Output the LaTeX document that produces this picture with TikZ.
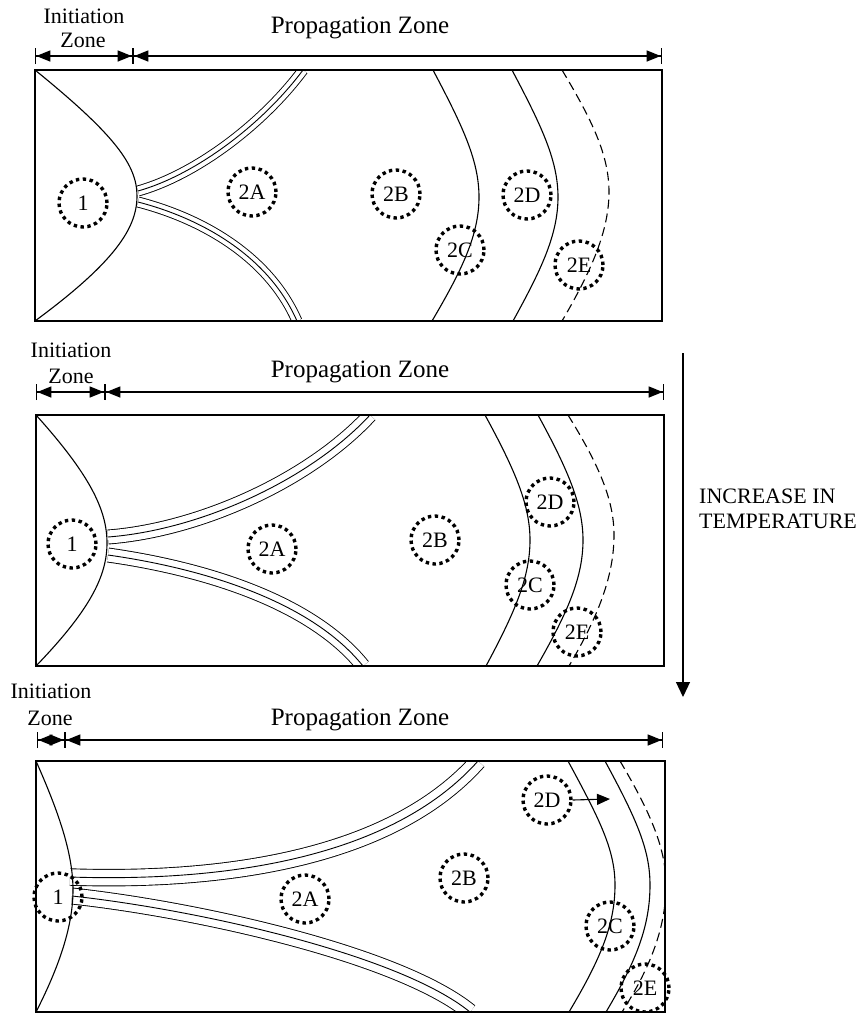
\documentclass[tikz,border=0pt]{standalone}
\usepackage{fontspec}
\setmainfont{Liberation Serif}
\usetikzlibrary{arrows.meta}
\begin{document}
\begin{tikzpicture}[x=1pt,y=-1pt,
  every node/.style={font=\fontsize{22}{24}\selectfont},
  bigtext/.style={font=\fontsize{25}{27}\selectfont},
  frame/.style={draw,line width=1.8pt},
  front/.style={draw,line width=1.1pt},
  dashfront/.style={draw,line width=1.1pt,dash pattern=on 9pt off 5pt},
  zone/.style={circle,draw,line width=3.4pt,dash pattern=on 3.4pt off 3.5pt,
    minimum size=48pt,inner sep=0pt},
  band/.style={preaction={draw=black,line width=#1},
    preaction={draw=white,line width=#1-1.8pt},draw=black,line width=0.9pt},
  dim/.style={line width=1.3pt,
    {Bar[width=16pt,line width=1.3pt]Triangle[length=14pt,width=11pt]}-{Triangle[length=14pt,width=11pt]Bar[width=16pt,line width=1.3pt]}},
]
\useasboundingbox (0,0) rectangle (866,1013);

% ---------------- first stage ----------------
\node[anchor=base] (i1a) at (84,23) {Initiation};
\node[anchor=base] (i1b) at (83,47) {Zone};
\node[anchor=base,bigtext] (p1) at (360,33) {Propagation Zone};
\coordinate (d1a) at (35,56);
\coordinate (d1b) at (133,56);
\coordinate (d1c) at (662,56);
\draw[dim] (d1a) -- (d1b);
\draw[dim] (d1b) -- (d1c);

\begin{scope}
\clip (35,70) rectangle (662,321);
\draw[band=10.9pt] (138,191) .. controls (195,175) and (262,125) .. (303,70);
\draw[band=10.9pt] (138,202) .. controls (200,218) and (268,255) .. (297,321);
\draw[front] (35,70) .. controls (115,135) and (137,165) .. (137,196)
  .. controls (137,228) and (115,262) .. (35,321);
\draw[front] (433,70) .. controls (462,125) and (479,160) .. (479,197)
  .. controls (479,235) and (462,270) .. (432,321);
\draw[front] (512,70) .. controls (541,125) and (558,160) .. (558,197)
  .. controls (558,235) and (541,270) .. (513,321);
\draw[dashfront] (562,70) .. controls (592,120) and (609,155) .. (609,192)
  .. controls (609,230) and (592,270) .. (562,321);
\end{scope}
\draw[frame] (35,70) rectangle (662,321);

\node[zone] (c1a) at (83,203) {1};
\node[zone] (c1b) at (252,192) {2A};
\node[zone] (c1c) at (396,194) {2B};
\node[zone] (c1d) at (460,250) {2C};
\node[zone] (c1e) at (527,195) {2D};
\node[zone] (c1f) at (579,265) {2E};

% ---------------- second stage ----------------
\node[anchor=base] (i2a) at (71,357) {Initiation};
\node[anchor=base] (i2b) at (71,383) {Zone};
\node[anchor=base,bigtext] (p2) at (360,377) {Propagation Zone};
\coordinate (d2a) at (36,392);
\coordinate (d2b) at (105,392);
\coordinate (d2c) at (664,392);
\draw[dim] (d2a) -- (d2b);
\draw[dim] (d2b) -- (d2c);

\begin{scope}
\clip (36,415) rectangle (664,666);
\draw[band=14.9pt] (108,537) .. controls (200,530) and (310,480) .. (370,415);
\draw[band=14.9pt] (108,555) .. controls (200,568) and (310,600) .. (363,666);
\draw[front] (36,415) .. controls (90,475) and (107,510) .. (107,543)
  .. controls (107,576) and (90,610) .. (36,666);
\draw[front] (485,415) .. controls (515,470) and (530,505) .. (530,540)
  .. controls (530,577) and (515,612) .. (486,666);
\draw[front] (538,415) .. controls (568,470) and (583,505) .. (583,540)
  .. controls (583,577) and (568,612) .. (537,666);
\draw[dashfront] (568,415) .. controls (599,465) and (614,500) .. (614,535)
  .. controls (614,575) and (599,615) .. (569,666);
\end{scope}
\draw[frame] (36,415) rectangle (664,666);

\node[zone] (c2a) at (72,544) {1};
\node[zone] (c2b) at (272,549) {2A};
\node[zone] (c2c) at (435,540) {2B};
\node[zone] (c2d) at (530,585) {2C};
\node[zone] (c2e) at (550,502) {2D};
\node[zone] (c2f) at (577,632) {2E};

% temperature axis
\coordinate (ta) at (683,353);
\coordinate (tb) at (683,697);
\draw[line width=1.2pt,-{Triangle[length=15pt,width=14pt]}] (ta) -- (tb);
\node[anchor=base west,inner sep=0pt] (tl1) at (699,503) {INCREASE IN};
\node[anchor=base west,inner sep=0pt] (tl2) at (699,528) {TEMPERATURE};

% ---------------- third stage ----------------
\node[anchor=base] (i3a) at (51,698) {Initiation};
\node[anchor=base] (i3b) at (50,725) {Zone};
\node[anchor=base,bigtext] (p3) at (360,725) {Propagation Zone};
\coordinate (d3a) at (37,740);
\coordinate (d3b) at (65,740);
\coordinate (d3c) at (663,740);
\draw[dim] (d3a) -- (d3b);
\draw[dim] (d3b) -- (d3c);

\begin{scope}
\clip (36,761) rectangle (665,1012);
\draw[band=17.4pt] (70,877) .. controls (220,882) and (390,860) .. (478,761);
\draw[band=16.9pt] (72,896) .. controls (200,910) and (400,955) .. (470,1012);
\draw[front] (36,761) .. controls (60,815) and (73,855) .. (73,890)
  .. controls (73,925) and (60,965) .. (36,1012);
\draw[front] (568,761) .. controls (600,820) and (615,850) .. (615,885)
  .. controls (615,925) and (600,960) .. (569,1012);
\draw[front] (605,761) .. controls (637,820) and (650,850) .. (650,885)
  .. controls (650,925) and (637,960) .. (606,1012);
\draw[dashfront] (620,761) .. controls (652,815) and (666,850) .. (666,885)
  .. controls (666,925) and (652,965) .. (622,1012);
\end{scope}
\draw[frame] (36,761) rectangle (665,1012);

\node[zone] (c3a) at (58,897) {1};
\node[zone] (c3b) at (305,899) {2A};
\node[zone] (c3c) at (464,878) {2B};
\node[zone] (c3d) at (610,926) {2C};
\node[zone] (c3e) at (547,800) {2D};
\node[zone] (c3f) at (645,988) {2E};
\coordinate (c3go) at (610,799);
\draw[line width=1.1pt,-{Triangle[length=13pt,width=11pt]}] (c3e.east) -- (c3go);
\end{tikzpicture}
\end{document}
